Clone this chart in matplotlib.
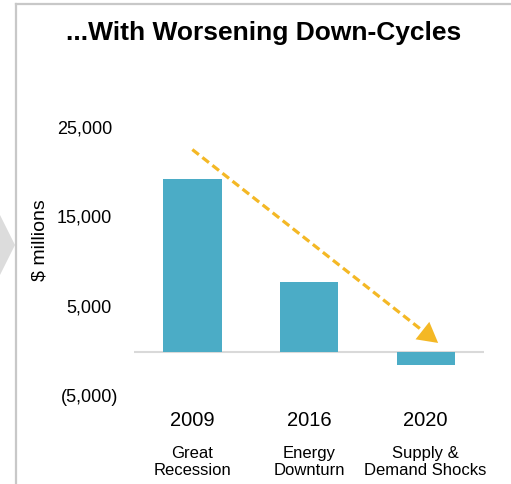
import matplotlib
matplotlib.use("Agg")
import matplotlib.pyplot as plt
from matplotlib.patches import Polygon
from matplotlib.lines import Line2D
from matplotlib.transforms import blended_transform_factory, offset_copy

plt.rcParams['font.family'] = ['Liberation Sans', 'DejaVu Sans']

years = ["2009", "2016", "2020"]
events = ["Great\nRecession", "Energy\nDownturn", "Supply &\nDemand Shocks"]
values = [19400, 7900, -1400]
yticks = [25000, 15000, 5000, -5000]
ytick_labels = ["25,000", "15,000", "5,000", "(5,000)"]

W, H = 511, 484
fig = plt.figure(figsize=(W / 100, H / 100), dpi=100)

# frame lines (left and top) and the grey chevron
fig.add_artist(Line2D([16 / W, 16 / W], [0, 1 - 3.5 / H], color="#c8c8c8", lw=1.6))
fig.add_artist(Line2D([16 / W, 1], [1 - 3.5 / H, 1 - 3.5 / H], color="#c8c8c8", lw=1.6))
fig.add_artist(Polygon([[0, 1 - 215 / H], [15 / W, 1 - 245 / H], [0, 1 - 275 / H]],
                       closed=True, facecolor="#dcdcdc", edgecolor="none",
                       transform=fig.transFigure))

ax = fig.add_axes([134 / W, 1 - 397 / H, (484 - 134) / W, (397 - 129) / H])
x = list(range(len(years)))
ax.bar(x, values, width=0.5, color="#4bacc6", zorder=2)
ax.axhline(0, color="#d9d9d9", lw=1.5, zorder=1)
ax.set_xlim(-0.5, 2.5)
ax.set_ylim(-5000, 25000)
ax.set_yticks(yticks)
ax.set_yticklabels([])
ax.tick_params(axis="y", length=0)
ax.set_xticks(x)
ax.set_xticklabels(years, fontsize=14.5)
ax.tick_params(axis="x", length=0, pad=10)
for s in ax.spines.values():
    s.set_visible(False)

# y tick labels: digits aligned, closing parenthesis hanging out
ytrans = blended_transform_factory(ax.transAxes, ax.transData)
for v, lab in zip(yticks, ytick_labels):
    dx = -22 if not lab.endswith(")") else -16
    ax.text(0, v, lab, transform=offset_copy(ytrans, fig=fig, x=dx * 0.72, units="points"),
            ha="right", va="center", fontsize=13)

trans = blended_transform_factory(ax.transData, fig.transFigure)
for xi, ev in zip(x, events):
    ax.text(xi, 1 - 462 / H, ev, transform=trans, ha="center", va="center",
            fontsize=12, linespacing=1.2)

# trend arrow
x0, y0, x1, y1 = 0.0, 22700, 2.107, 1050
c = "#f4b825"
frac = 0.93
ax.plot([x0, x0 + (x1 - x0) * frac], [y0, y0 + (y1 - y0) * frac], color=c, lw=2.3,
        dashes=(2.6, 1.4), zorder=3, clip_on=False)
ax.annotate("", xy=(x1, y1), xytext=(x0 + (x1 - x0) * 0.92, y0 + (y1 - y0) * 0.92),
            arrowprops=dict(arrowstyle="-|>,head_length=0.9,head_width=0.5", color=c, lw=0,
                            shrinkA=0, shrinkB=0, mutation_scale=16), zorder=4)

fig.text(264 / W, 1 - 33 / H, "...With Worsening Down-Cycles", ha="center", va="center",
         fontsize=19, fontweight="bold")
fig.text(40 / W, 1 - 240 / H, "$ millions", rotation=90, ha="center", va="center", fontsize=14)

fig.savefig("out.png", dpi=100)
